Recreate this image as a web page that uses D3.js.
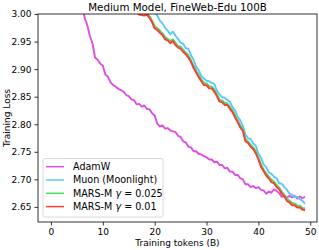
<!DOCTYPE html>
<html><head><meta charset="utf-8">
<script src="https://cdn.jsdelivr.net/npm/d3@7"></script>
<style>body{margin:0;background:#fff}svg{display:block}text{font-family:"DejaVu Sans",sans-serif}</style>
</head><body><svg id="c" width="319" height="250"></svg>
<script>
const title = "Medium Model, FineWeb-Edu 100B";
const xLabel = "Training tokens (B)";
const yLabel = "Training Loss";
const xTicks = [0, 10, 20, 30, 40, 50];
const yTicks = [2.65, 2.70, 2.75, 2.80, 2.85, 2.90, 2.95, 3.00];
const tokens = d3.range(0, 49.01, 0.5);

const adamw = [3.90,3.75,3.62,3.52,3.43,3.36,3.29,3.23,3.18,3.13,
3.09,3.055,3.02,2.993,2.980,2.960,2.947,2.921,2.917,2.910,
2.906,2.890,2.886,2.876,2.871,2.868,2.864,2.862,2.859,2.853,
2.851,2.845,2.844,2.836,2.837,2.832,2.834,2.828,2.827,2.820,
2.816,2.801,2.796,2.798,2.792,2.793,2.789,2.787,2.786,2.779,
2.777,2.769,2.767,2.759,2.758,2.751,2.751,2.746,2.745,2.742,
2.740,2.736,2.736,2.731,2.732,2.726,2.726,2.720,2.721,2.714,
2.714,2.708,2.708,2.702,2.700,2.691,2.691,2.686,2.688,2.684,
2.686,2.681,2.680,2.674,2.678,2.676,2.682,2.679,2.675,2.668,
2.670,2.667,2.670,2.667,2.670,2.665,2.669,2.666,2.668];

const muon = [4.30,4.05,3.88,3.75,3.65,3.57,3.50,3.44,3.39,3.35,
3.31,3.28,3.25,3.22,3.20,3.18,3.16,3.14,3.125,3.11,
3.10,3.09,3.08,3.07,3.06,3.055,3.05,3.045,3.04,3.035,
3.03,3.027,3.024,3.021,3.018,3.016,3.014,3.013,3.012,3.010,
3.004,2.997,2.988,2.983,2.975,2.970,2.963,2.968,2.961,2.955,
2.948,2.946,2.938,2.937,2.925,2.917,2.904,2.898,2.887,2.883,
2.879,2.878,2.875,2.873,2.861,2.854,2.849,2.848,2.844,2.841,
2.831,2.825,2.814,2.807,2.797,2.781,2.775,2.773,2.765,2.761,
2.747,2.739,2.727,2.722,2.713,2.710,2.705,2.702,2.693,2.692,
2.686,2.681,2.674,2.672,2.668,2.668,2.664,2.661,2.656];

const marsM025 = [4.22,4.00,3.84,3.72,3.62,3.54,3.47,3.41,3.36,3.32,
3.28,3.25,3.22,3.19,3.165,3.145,3.125,3.108,3.093,3.08,
3.07,3.06,3.05,3.045,3.040,3.035,3.032,3.029,3.026,3.024,
3.022,3.020,3.016,3.010,
3.004,3.003,3.001,3.003,2.996,2.988,2.978,2.974,2.970,2.965,
2.958,2.955,2.951,2.954,2.948,2.942,2.941,2.935,2.930,2.925,
2.916,2.906,2.897,2.889,2.881,2.875,2.874,2.869,2.868,2.863,
2.854,2.845,2.843,2.839,2.838,2.832,2.825,2.816,2.807,2.798,
2.791,2.773,2.769,2.763,2.758,2.751,2.739,2.727,2.718,2.711,
2.705,2.699,2.696,2.690,2.685,2.678,2.672,2.665,2.661,2.657,
2.656,2.652,2.652,2.648,2.647];

const marsM01 = [4.20,3.98,3.82,3.70,3.60,3.52,3.45,3.39,3.34,3.30,
3.26,3.23,3.20,3.175,3.15,3.13,3.11,3.095,3.08,3.07,
3.06,3.05,3.045,3.040,3.036,3.032,3.029,3.026,3.024,3.022,
3.020,3.017,3.013,3.007,
2.999,2.998,2.997,2.999,2.993,2.985,2.974,2.971,2.966,2.962,
2.954,2.952,2.947,2.951,2.944,2.939,2.937,2.931,2.927,2.921,
2.913,2.902,2.894,2.885,2.878,2.871,2.871,2.865,2.865,2.859,
2.851,2.841,2.840,2.835,2.835,2.828,2.822,2.812,2.804,2.794,
2.788,2.769,2.766,2.759,2.755,2.747,2.736,2.723,2.715,2.707,
2.702,2.695,2.693,2.686,2.682,2.674,2.669,2.661,2.658,2.653,
2.653,2.649,2.649,2.645,2.644];

const seriesNames = ["AdamW", "Muon (Moonlight)", "MARS-M", "MARS-M"];
const seriesGamma = [null, null, "0.025", "0.01"];
const seriesColors = ["#de4fe0", "#5ac8fa", "#4cd964", "#ff3b30"];
const seriesValues = [adamw, muon, marsM025, marsM01];

const L = 38, T = 14, R = 317, B = 222;
const svg = d3.select("#c");
const x = d3.scaleLinear().domain([-2.5, 51.3]).range([L, R]);
const y = d3.scaleLinear().domain([2.6226, 3.0]).range([B, T]);

svg.append("defs").append("clipPath").attr("id", "clip")
  .append("rect").attr("x", L).attr("y", T).attr("width", R - L).attr("height", B - T);

const line = d3.line().x(d => x(d[0])).y(d => y(d[1]));
const g = svg.append("g").attr("clip-path", "url(#clip)");
seriesValues.forEach((vals, i) => {
  g.append("path").datum(tokens.map((t, j) => [t, vals[j]]))
    .attr("d", line).attr("fill", "none")
    .attr("stroke", seriesColors[i]).attr("stroke-width", 1.9)
    .attr("stroke-linejoin", "round");
});

// axes
const xAxis = svg.append("g").attr("transform", `translate(0,${B})`)
  .call(d3.axisBottom(x).tickValues(xTicks).tickSize(3.5).tickPadding(3).tickFormat(d3.format("d")));
const yAxis = svg.append("g").attr("transform", `translate(${L},0)`)
  .call(d3.axisLeft(y).tickValues(yTicks).tickSize(3.5).tickPadding(3).tickFormat(d3.format(".2f")));
[xAxis, yAxis].forEach(a => {
  a.select(".domain").remove();
  a.selectAll("line").attr("stroke", "#000").attr("stroke-width", 0.8);
  a.selectAll("text").attr("font-size", 9).attr("fill", "#000").attr("font-family", "DejaVu Sans");
});
svg.append("rect").attr("x", L).attr("y", T).attr("width", R - L).attr("height", B - T)
  .attr("fill", "none").attr("stroke", "#000").attr("stroke-width", 0.8);

svg.append("text").attr("x", (L + R) / 2).attr("y", 10.5).attr("text-anchor", "middle")
  .attr("font-size", 10.3).text(title);
svg.append("text").attr("x", (L + R) / 2).attr("y", 245.5).attr("text-anchor", "middle")
  .attr("font-size", 9).text(xLabel);
svg.append("text").attr("transform", `translate(10,${(T + B) / 2}) rotate(-90)`)
  .attr("text-anchor", "middle").attr("font-size", 9).text(yLabel);

// legend
const lg = svg.append("g");
lg.append("rect").attr("x", 43).attr("y", 158.5).attr("width", 120).attr("height", 58.5)
  .attr("rx", 2).attr("fill", "#fff").attr("fill-opacity", 0.8)
  .attr("stroke", "#d0d0d0").attr("stroke-width", 0.8);
seriesNames.forEach((n, i) => {
  const yy = 166.7 + i * 13.3;
  lg.append("line").attr("x1", 46).attr("x2", 64).attr("y1", yy).attr("y2", yy)
    .attr("stroke", seriesColors[i]).attr("stroke-width", 1.5);
  const t = lg.append("text").attr("x", 73).attr("y", yy + 3.3).attr("font-size", 9.6);
  t.append("tspan").text(n);
  if (seriesGamma[i]) {
    t.append("tspan").attr("font-style", "italic").text(" γ");
    t.append("tspan").text(" = " + seriesGamma[i]);
  }
});
</script></body></html>
